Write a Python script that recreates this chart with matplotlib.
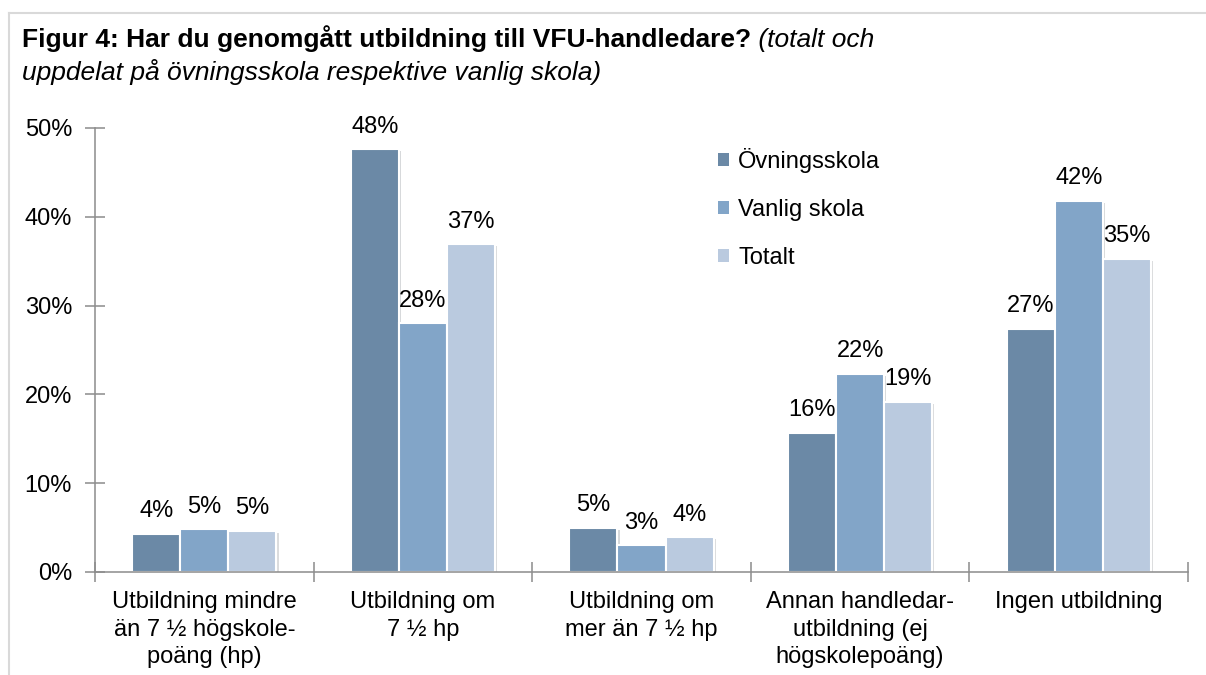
import numpy as np
import matplotlib
matplotlib.use("Agg")
import matplotlib.pyplot as plt
import matplotlib.patheffects as pe
from matplotlib.lines import Line2D

plt.rcParams["font.family"] = ["Liberation Sans", "DejaVu Sans"]

# ── data ────────────────────────────────────────────────────────────────────
CATEGORIES = [
    "Utbildning mindre\nän 7 ½ högskole-\npoäng (hp)",
    "Utbildning om\n7 ½ hp",
    "Utbildning om\nmer än 7 ½ hp",
    "Annan handledar-\nutbildning (ej\nhögskolepoäng)",
    "Ingen utbildning",
]
SERIES = ["Övningsskola", "Vanlig skola", "Totalt"]
OVNINGSSKOLA = [4.3, 47.6, 5.0, 15.7, 27.4]
VANLIG_SKOLA = [4.8, 28.0, 3.0, 22.3, 41.8]
TOTALT       = [4.6, 36.9, 3.9, 19.2, 35.3]
Y_TICKS = [0, 10, 20, 30, 40, 50]

COLORS = ["#6B89A6", "#82A5C8", "#BACADF"]
AXIS_GRAY = "#8C8C8C"
# ────────────────────────────────────────────────────────────────────────────

W, H = 1206, 675
fig = plt.figure(figsize=(W / 100, H / 100), dpi=100)
ax = fig.add_axes([95 / W, 1 - 572 / H, (1188 - 95) / W, (572 - 128) / H])

x = np.arange(len(CATEGORIES))
bw = 0.22
shadow = [pe.SimplePatchShadow(offset=(1.5, -1.5), alpha=0.18), pe.Normal()]
for i, (name, vals) in enumerate(zip(SERIES, [OVNINGSSKOLA, VANLIG_SKOLA, TOTALT])):
    bars = ax.bar(x + (i - 1) * bw, vals, bw, color=COLORS[i], edgecolor="white",
                  linewidth=1.5, label=name, zorder=3)
    for b in bars:
        b.set_path_effects(shadow)
    for xi, v in zip(x + (i - 1) * bw, vals):
        ax.annotate(f"{v:.0f}%", (xi, v), xytext=(0, 12), textcoords="offset points",
                    ha="center", va="baseline", fontsize=17)

ax.set_xlim(-0.5, len(CATEGORIES) - 0.5)
ax.set_ylim(0, 50)

# boundaries as major ticks, labels on minor ticks at centers
ax.set_xticks(np.arange(-0.5, len(CATEGORIES)), labels=[])
ax.set_xticks(x, labels=CATEGORIES, minor=True)
ax.tick_params(axis="x", which="major", direction="inout", length=15, width=1.1,
               color=AXIS_GRAY)
ax.tick_params(axis="x", which="minor", length=0, pad=14, labelsize=17)
for lab in ax.get_xticklabels(minor=True):
    lab.set_multialignment("center")
    lab.set_linespacing(1.3)

ax.set_yticks(Y_TICKS, labels=[f"{t}%" for t in Y_TICKS])
ax.tick_params(axis="y", direction="inout", length=15, width=1.1, color=AXIS_GRAY,
               pad=9, labelsize=17)

for s in ["top", "right"]:
    ax.spines[s].set_visible(False)
for s in ["left", "bottom"]:
    ax.spines[s].set_color(AXIS_GRAY)
    ax.spines[s].set_linewidth(1.1)
    ax.spines[s].set_zorder(4)

leg = ax.legend(loc="upper left", bbox_to_anchor=(718 / W, 1 - 148 / H),
                bbox_transform=fig.transFigure, frameon=False,
                fontsize=17, handlelength=0.45, handleheight=0.45, handletextpad=0.4,
                labelspacing=1.1, borderpad=0, borderaxespad=0)
for h in leg.legend_handles:
    h.set_edgecolor("none")
    h.set_path_effects([])

# title: bold part + italic part on first line, italic second line
t1 = fig.text(22 / W, 1 - 47 / H, "Figur 4: Har du genomgått utbildning till VFU-handledare?",
              fontsize=19, fontweight="bold", va="baseline", ha="left")
fig.canvas.draw()
ax.annotate(" (totalt och", xy=(1, 0), xycoords=t1, va="bottom", ha="left",
            fontsize=19, fontstyle="italic", annotation_clip=False)
fig.text(22 / W, 1 - 80 / H, "uppdelat på övningsskola respektive vanlig skola)",
         fontsize=19, fontstyle="italic", va="baseline", ha="left")

# light frame at top and left
fig.add_artist(Line2D([9 / W, 1], [1 - 13 / H, 1 - 13 / H], color="#D9D9D9", lw=1.5))
fig.add_artist(Line2D([9 / W, 9 / W], [0, 1 - 13 / H], color="#D9D9D9", lw=1.5))

fig.savefig("out.png", dpi=100)
